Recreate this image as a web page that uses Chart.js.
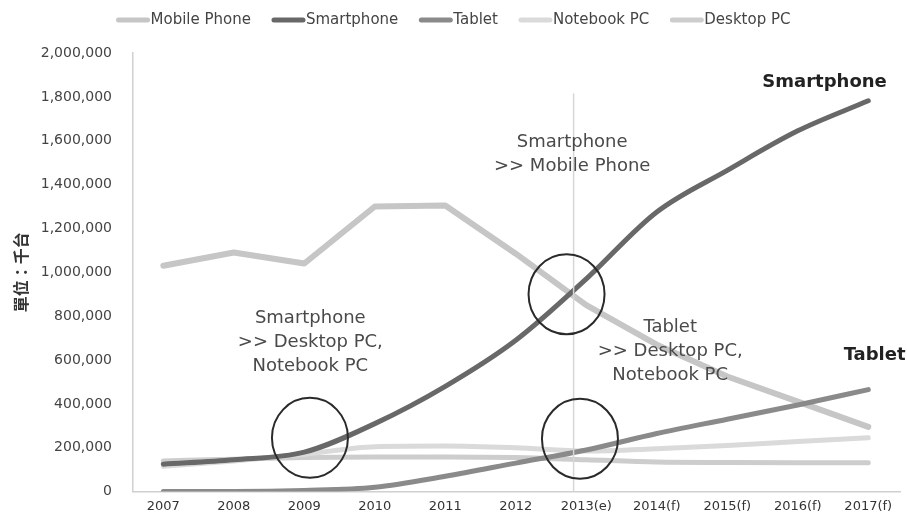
<!DOCTYPE html>
<html>
<head>
<meta charset="utf-8">
<script src="https://cdn.jsdelivr.net/npm/chart.js@4/dist/chart.umd.min.js"></script>
<style>
  html, body { margin: 0; padding: 0; background: #ffffff; }
  #wrap { position: relative; width: 907px; height: 521px; }
</style>
</head>
<body>
<div id="wrap"><canvas id="c" width="907" height="521"></canvas></div>
<script>
// ---- data (units: thousand units) ----
const categories = ['2007','2008','2009','2010','2011','2012','2013(e)','2014(f)','2015(f)','2016(f)','2017(f)'];
const seriesNames = ['Mobile Phone','Smartphone','Tablet','Notebook PC','Desktop PC'];
const mobilePhone = [1030000,1090000,1040000,1300000,1305000,1085000,850000,670000,525000,410000,295000];
const smartphone  = [125000,145000,180000,310000,480000,690000,970000,1275000,1465000,1645000,1782000];
const tablet      = [0,0,5000,20000,70000,130000,190000,265000,330000,395000,465000];
const notebookPC  = [115000,140000,170000,205000,208000,200000,185000,195000,210000,228000,245000];
const desktopPC   = [140000,148000,155000,158000,158000,155000,145000,135000,133000,132000,132000];
const yTicks = [0,200000,400000,600000,800000,1000000,1200000,1400000,1600000,1800000,2000000];
const yTitle = '單位：千台';

const toXY = arr => arr.map((v, i) => ({x: i, y: v}));

const annotationTexts = [
  {lines: ['Smartphone', '>> Desktop PC,', 'Notebook PC'], x: 2.085, y: 791000, bold: false},
  {lines: ['Smartphone', '>> Mobile Phone'], x: 5.8, y: 1591000, bold: false},
  {lines: ['Tablet', '>> Desktop PC,', 'Notebook PC'], x: 7.19, y: 750000, bold: false},
  {lines: ['Smartphone'], x: 9.38, y: 1868000, bold: true},
  {lines: ['Tablet'], x: 10.09, y: 623000, bold: true}
];
const circles = [
  {x: 2.08, y: 245000},
  {x: 5.72, y: 900000},
  {x: 5.91, y: 241000}
];
const markerX = 5.82;   // 2013(e) divider
const markerTop = 1815000;

const colors = ['#c6c6c6', '#686868', '#8a8a8a', '#dadada', '#cdcdcd'];

const annotPlugin = {
  id: 'annot',
  afterDatasetsDraw(chart) {
    const {ctx, scales: {x, y}} = chart;
    ctx.save();
    // vertical divider
    ctx.strokeStyle = '#d6d6d6';
    ctx.lineWidth = 1.5;
    ctx.beginPath();
    ctx.moveTo(x.getPixelForValue(markerX), y.getPixelForValue(markerTop));
    ctx.lineTo(x.getPixelForValue(markerX), y.getPixelForValue(0));
    ctx.stroke();
    // circles
    ctx.strokeStyle = '#2a2a2a';
    ctx.lineWidth = 2;
    circles.forEach(c => {
      ctx.beginPath();
      ctx.ellipse(x.getPixelForValue(c.x), y.getPixelForValue(c.y), 38, 40, 0, 0, Math.PI * 2);
      ctx.stroke();
    });
    // texts
    ctx.textAlign = 'center';
    ctx.textBaseline = 'middle';
    annotationTexts.forEach(a => {
      ctx.font = (a.bold ? 'bold ' : '') + '18px "DejaVu Sans", sans-serif';
      ctx.fillStyle = a.bold ? '#222222' : '#4a4a4a';
      const cx = x.getPixelForValue(a.x);
      const cy = y.getPixelForValue(a.y);
      a.lines.forEach((t, i) => ctx.fillText(t, cx, cy + i * 24));
    });
    ctx.restore();
  },
  afterDraw(chart) {
    // legend row (Excel style: line sample directly followed by label)
    const ctx = chart.ctx;
    ctx.save();
    ctx.font = '15px "DejaVu Sans", sans-serif';
    ctx.textBaseline = 'middle';
    ctx.textAlign = 'left';
    const sample = 33, gapText = 1, gapItem = 21, cy = 20;
    const widths = seriesNames.map(n => ctx.measureText(n).width);
    const total = widths.reduce((s, w) => s + w + sample + gapText, 0) + gapItem * (seriesNames.length - 1);
    let px = (chart.width - total) / 2;
    seriesNames.forEach((n, i) => {
      ctx.strokeStyle = colors[i];
      ctx.lineWidth = 5;
      ctx.lineCap = 'round';
      ctx.beginPath();
      ctx.moveTo(px + 2, cy);
      ctx.lineTo(px + sample - 2, cy);
      ctx.stroke();
      ctx.fillStyle = '#444444';
      ctx.fillText(n, px + sample + gapText, cy);
      px += sample + gapText + widths[i] + gapItem;
    });
    ctx.restore();
  }
};

const ds = (i, data, width, order, smooth) => ({
  label: seriesNames[i], data: toXY(data), borderColor: colors[i], backgroundColor: colors[i],
  borderWidth: width, pointRadius: 0, order,
  tension: smooth ? 0.4 : 0, cubicInterpolationMode: smooth ? 'monotone' : 'default',
  borderCapStyle: 'round', borderJoinStyle: 'round'
});

new Chart(document.getElementById('c'), {
  type: 'line',
  data: {
    datasets: [
      ds(0, mobilePhone, 6, 2, false),
      ds(1, smartphone, 5, 0, true),
      ds(2, tablet, 5, 1, true),
      ds(3, notebookPC, 5, 3, true),
      ds(4, desktopPC, 5, 4, true)
    ]
  },
  options: {
    responsive: false,
    animation: false,
    layout: {padding: {left: 7, right: 7, top: 53, bottom: 0}},
    plugins: {
      tooltip: {enabled: false},
      legend: {display: false}
    },
    scales: {
      x: {
        type: 'linear', min: -0.43, max: 10.45,
        afterBuildTicks(axis) { axis.ticks = categories.map((_, i) => ({value: i})); },
        afterFit(axis) { axis.height = 29; },
        ticks: {
          callback: v => categories[v],
          autoSkip: false, maxRotation: 0,
          color: '#333333',
          font: {family: '"DejaVu Sans", sans-serif', size: 13},
          padding: 7
        },
        grid: {display: false, drawTicks: false, tickLength: 0},
        border: {color: '#d0d0d0', width: 1.5}
      },
      y: {
        min: 0, max: 2000000,
        afterBuildTicks(axis) { axis.ticks = yTicks.map(v => ({value: v})); },
        afterFit(axis) { axis.width = 126; },
        ticks: {
          callback: v => v.toLocaleString('en-US'),
          color: '#444444',
          font: {family: '"DejaVu Sans", sans-serif', size: 14},
          padding: 21
        },
        grid: {display: false, drawTicks: false, tickLength: 0},
        border: {color: '#d0d0d0', width: 1.5},
        title: {
          display: true, text: yTitle, color: '#333333',
          font: {family: '"Noto Sans CJK TC", sans-serif', size: 16, weight: 'bold'},
          padding: {top: 4, bottom: 8}
        }
      }
    }
  },
  plugins: [annotPlugin]
});
</script>
</body>
</html>
